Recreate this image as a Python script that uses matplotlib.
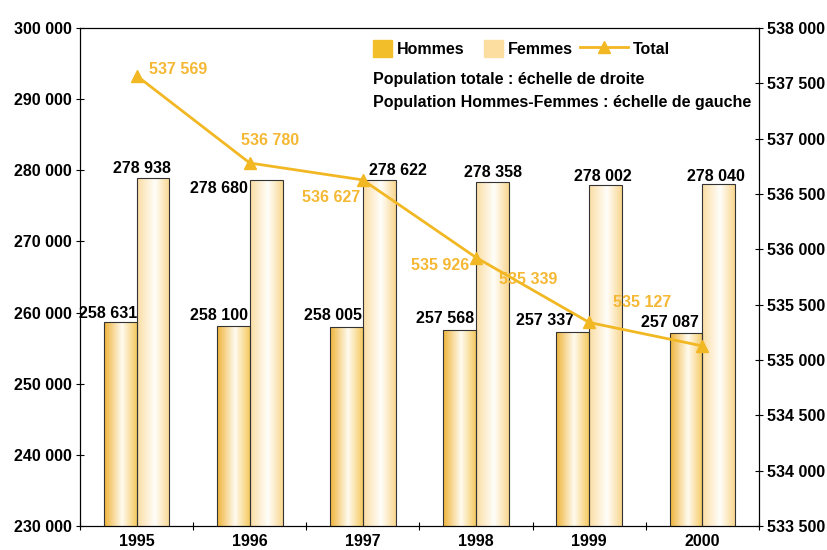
import matplotlib.pyplot as plt
import numpy as np
from matplotlib.colors import LinearSegmentedColormap
from matplotlib.lines import Line2D
from matplotlib.patches import Patch

plt.rcParams['font.family'] = ['Liberation Sans', 'DejaVu Sans']
plt.rcParams['font.weight'] = 'bold'

# data
years = ['1995', '1996', '1997', '1998', '1999', '2000']
hommes = [258631, 258100, 258005, 257568, 257337, 257087]
femmes = [278938, 278680, 278622, 278358, 278002, 278040]
total = [537569, 536780, 536627, 535926, 535339, 535127]

# label placement (pixel offsets from group centre / value)
h_off = [(-28, 9), (-31, 11), (-30, 11), (-31, 11), (-44, 11), (-32, 11)]
f_off = [(5, 9), (-31, -9), (35, 10), (17, 9), (14, 8), (14, 8)]
t_off = [(42, 6), (20, 23), (-32, -18), (-36, -8), (-61, 43), (-60, 43)]

c_h = '#F2BE2A'
c_f = '#FCDFA0'
c_line = '#F2B824'
c_lab = '#F5B834'

cm_h = LinearSegmentedColormap.from_list('h', [(0, '#EFB43A'), (0.55, '#FFFBF0'), (1, '#F6CA62')])
cm_f = LinearSegmentedColormap.from_list('f', [(0, '#FBDDA4'), (0.55, '#FFFEFA'), (1, '#F9D790')])

fig = plt.figure(figsize=(8.28, 5.5), dpi=100)
ax = fig.add_axes([80 / 828, 24 / 550, 679 / 828, 498 / 550])
ax2 = ax.twinx()

x = np.arange(len(years))
w = 0.29
grad = np.linspace(0, 1, 64).reshape(1, -1)

bars_h = ax.bar(x - w / 2, hommes, w, color='none', edgecolor='#333333', lw=0.8, zorder=3)
bars_f = ax.bar(x + w / 2, femmes, w, color='none', edgecolor='#333333', lw=0.8, zorder=3)
for bars, cm in [(bars_h, cm_h), (bars_f, cm_f)]:
    for b in bars:
        x0, y0 = b.get_x(), 230000
        im = ax.imshow(grad, extent=[x0, x0 + b.get_width(), y0, b.get_height()],
                       aspect='auto', cmap=cm, zorder=2, interpolation='bilinear')
        im.set_clip_path(b)

ax.set_xlim(-0.5, 5.5)
ax.set_ylim(230000, 300000)
ax.set_yticks(np.arange(230000, 300001, 10000))
ax.set_yticklabels([f"{v:,}".replace(",", " ") for v in range(230000, 300001, 10000)])
ax.set_xticks(np.arange(-0.5, 5.6, 1))
ax.set_xticklabels([])
ax.set_xticks(x, minor=True)
ax.set_xticklabels(years, minor=True)
ax.tick_params(axis='x', which='minor', length=0, labelsize=11.5, pad=6)
ax.tick_params(axis='x', which='major', direction='inout', length=6)
ax.tick_params(axis='y', direction='inout', length=6, labelsize=11.5, pad=3)

for i in range(len(years)):
    ax.annotate(f"{hommes[i]:,}".replace(",", " "), (x[i], hommes[i]), xytext=h_off[i],
                textcoords='offset pixels', ha='center', va='center', fontsize=11.5, zorder=5)
    ax.annotate(f"{femmes[i]:,}".replace(",", " "), (x[i], femmes[i]), xytext=f_off[i],
                textcoords='offset pixels', ha='center', va='center', fontsize=11.5, zorder=5)

ax2.plot(x, total, color=c_line, lw=2, marker='^', ms=8, zorder=4)
ax2.set_ylim(533500, 538000)
ax2.set_yticks(np.arange(533500, 538001, 500))
ax2.set_yticklabels([f"{v:,}".replace(",", " ") for v in range(533500, 538001, 500)])
ax2.tick_params(axis='y', direction='inout', length=6, labelsize=11.5, pad=3)
for i in range(len(years)):
    ax2.annotate(f"{total[i]:,}".replace(",", " "), (x[i], total[i]), xytext=t_off[i],
                 textcoords='offset pixels', ha='center', va='center', fontsize=11.5,
                 color=c_lab)

leg1 = ax2.legend([Patch(color=c_h), Patch(color=c_f)], ['Hommes', 'Femmes'], ncol=2,
                  frameon=False, loc='upper left', bbox_to_anchor=(0.4315, 0.975),
                  borderpad=0, borderaxespad=0, fontsize=11.5, handlelength=1.2,
                  handleheight=1.2, handletextpad=0.3, columnspacing=1.2)
ax2.add_artist(leg1)
ax2.legend([Line2D([], [], color=c_line, lw=2, marker='^', ms=8)], ['Total'],
           frameon=False, loc='upper left', bbox_to_anchor=(0.736, 0.975),
           borderpad=0, borderaxespad=0, fontsize=11.5, handlelength=3.0,
           handleheight=1.2, handletextpad=0.3)
ax2.text(0.4315, 0.8956, 'Population totale : échelle de droite', transform=ax2.transAxes,
         fontsize=11.5, va='center')
ax2.text(0.4315, 0.851, 'Population Hommes-Femmes : échelle de gauche', transform=ax2.transAxes,
         fontsize=11.5, va='center')

fig.savefig('out.png', dpi=100)
